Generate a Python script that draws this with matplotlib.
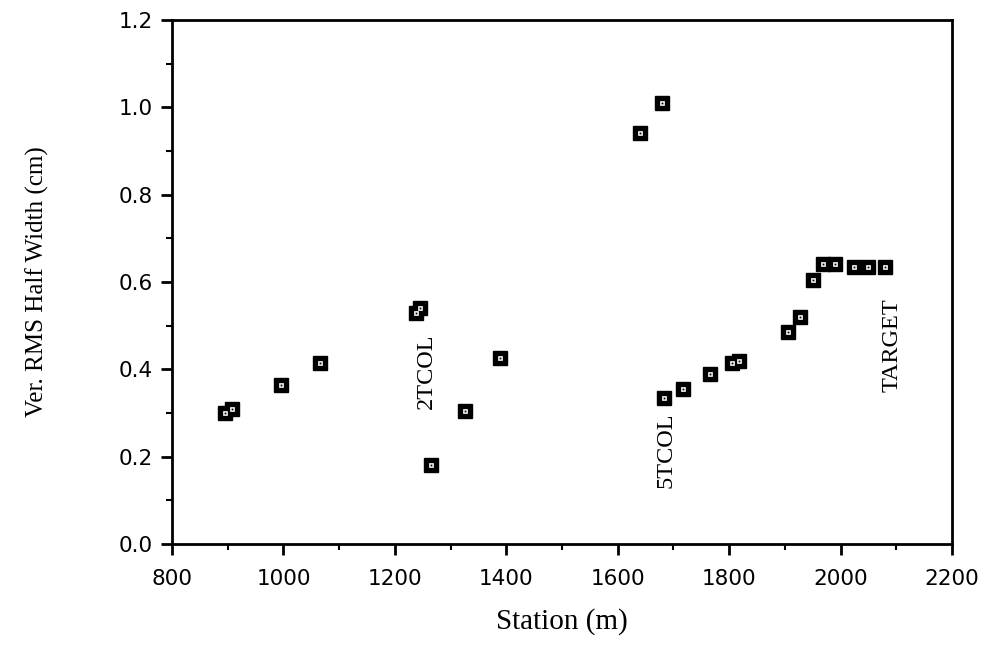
import matplotlib
matplotlib.use('Agg')
import matplotlib.pyplot as plt
from matplotlib.ticker import MultipleLocator

# station (m) and vertical RMS half width (cm)
station = [895, 908, 995, 1065, 1238, 1245, 1265, 1325, 1388,
           1640, 1680, 1683, 1718, 1765, 1805, 1818, 1905, 1928,
           1950, 1968, 1990, 2025, 2050, 2080]
rms_width = [0.30, 0.31, 0.365, 0.415, 0.53, 0.54, 0.18, 0.305, 0.425,
             0.94, 1.01, 0.335, 0.355, 0.39, 0.415, 0.42, 0.485, 0.52,
             0.605, 0.64, 0.64, 0.635, 0.635, 0.635]

labels = ['2TCOL', '5TCOL', 'TARGET']
label_x = [1257, 1686, 2093]
label_y = [0.395, 0.215, 0.455]

fig = plt.figure(figsize=(9.91, 6.47), dpi=100)
ax = fig.add_axes([0.1736, 0.1592, 0.787, 0.81])

ax.plot(station, rms_width, 's', ms=10.5, mfc='black', mec='black', mew=1)
ax.plot(station, rms_width, 's', ms=3.5, mfc='white', mec='white', mew=0.5)
ax.plot(station, rms_width, 's', ms=1.3, mfc='black', mec='black', mew=0)

for t, x, y in zip(labels, label_x, label_y):
    ax.text(x, y, t, rotation=90, ha='center', va='center',
            family='Liberation Serif', fontsize=17.5)

ax.set_xlim(800, 2200)
ax.set_ylim(0, 1.2)
ax.xaxis.set_major_locator(MultipleLocator(200))
ax.xaxis.set_minor_locator(MultipleLocator(100))
ax.yaxis.set_major_locator(MultipleLocator(0.2))
ax.yaxis.set_minor_locator(MultipleLocator(0.1))
ax.yaxis.set_major_formatter(matplotlib.ticker.FormatStrFormatter('%.1f'))

for s in ax.spines.values():
    s.set_linewidth(2)
ax.tick_params(which='major', direction='out', length=8, width=2)
ax.tick_params(axis='x', which='major', pad=10)
ax.tick_params(axis='y', which='major', pad=6)
ax.tick_params(which='minor', direction='out', length=4, width=1.5)
for lab in ax.get_xticklabels() + ax.get_yticklabels():
    lab.set_family('DejaVu Sans')
    lab.set_fontsize(15.5)

ax.set_xlabel('Station (m)', family='Liberation Serif', fontsize=21, labelpad=14)
ax.set_ylabel('Ver. RMS Half Width (cm)', family='Liberation Serif', fontsize=18, labelpad=50)

plt.savefig('out.png', dpi=100)
